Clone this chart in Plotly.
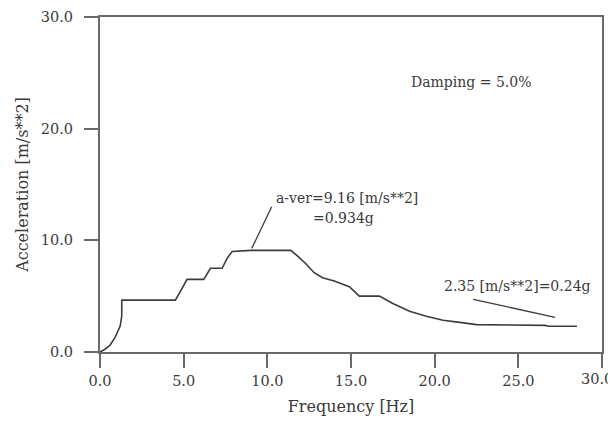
import plotly.graph_objects as go

# Response spectrum
freq = [0.0, 0.3, 0.6, 0.9, 1.2, 1.3, 1.3, 2.5, 3.5, 4.5, 4.8, 5.2, 6.2, 6.6, 7.3, 7.6, 7.9,
        9.0, 10.5, 11.4, 11.8, 12.3, 12.8, 13.3, 14.0, 14.9, 15.5, 16.7, 17.5, 18.5, 19.5,
        20.5, 21.5, 22.5, 24.5, 26.6, 26.8, 28.5]
accel = [0.0, 0.25, 0.6, 1.3, 2.3, 3.2, 4.65, 4.65, 4.65, 4.65, 5.4, 6.5, 6.5, 7.5, 7.5, 8.4, 9.0,
         9.1, 9.1, 9.1, 8.6, 7.9, 7.1, 6.65, 6.35, 5.85, 5.0, 5.0, 4.35, 3.65, 3.2,
         2.85, 2.65, 2.45, 2.42, 2.38, 2.3, 2.3]

x_ticks = [0, 5, 10, 15, 20, 25, 30]
x_ticktext = ["0.0", "5.0", "10.0", "15.0", "20.0", "25.0", "30.0"]
y_ticks = [0, 10, 20, 30]

# annotation texts and anchor points (data units)
ann_texts = ["a-ver=9.16 [m/s**2]", "=0.934g", "2.35 [m/s**2]=0.24g", "Damping = 5.0%"]
ann_x = [10.4, 12.6, 20.45, 18.45]
ann_y = [13.8, 12.0, 5.9, 24.2]
lead1_x = [9.07, 10.26]
lead1_y = [9.28, 13.0]
lead2_x = [22.3, 27.2]
lead2_y = [4.72, 3.1]

FONT = "DejaVu Serif"
TXT = "#3a3a3a"
AX = "#6a6a6a"
TICK_SIZE = 14.5

fig = go.Figure()
fig.add_trace(go.Scatter(x=freq, y=accel, mode="lines",
                         line=dict(color="#3c3c3c", width=1.6), showlegend=False,
                         hoverinfo="skip"))
fig.add_trace(go.Scatter(x=lead1_x, y=lead1_y, mode="lines",
                         line=dict(color="#3c3c3c", width=1.3), showlegend=False))
fig.add_trace(go.Scatter(x=lead2_x, y=lead2_y, mode="lines",
                         line=dict(color="#3c3c3c", width=1.3), showlegend=False))

for t, x, y in zip(ann_texts, ann_x, ann_y):
    fig.add_annotation(x=x, y=y, xref="x", yref="y", text=t, showarrow=False,
                       xanchor="left", yanchor="middle",
                       font=dict(family=FONT, size=14, color=TXT))

# last x tick label sits at the right edge: draw it right-aligned so it stays inside
fig.add_annotation(x=x_ticks[-1], y=0, xref="x", yref="paper", text=x_ticktext[-1],
                   showarrow=False, xanchor="right", yanchor="top",
                   xshift=13, yshift=-17,
                   font=dict(family=FONT, size=TICK_SIZE, color=TXT))

axis_common = dict(showline=True, linecolor=AX, linewidth=2, mirror=True,
                   ticks="outside", ticklen=14, tickwidth=2, tickcolor=AX,
                   showgrid=False, zeroline=False, automargin=False,
                   tickfont=dict(family=FONT, size=TICK_SIZE, color=TXT))

# page body has an 8px margin, so the figure is offset by 8px inside the window
fig.update_layout(
    width=608, height=408, autosize=False,
    margin=dict(l=92, r=14, t=9, b=64),
    paper_bgcolor="white", plot_bgcolor="white",
    xaxis=dict(range=[0, 30], tickvals=x_ticks,
               ticktext=x_ticktext[:-1] + [""], ticklabelstandoff=1,
               title=dict(text="Frequency [Hz]", standoff=18,
                          font=dict(family=FONT, size=16, color=TXT)),
               **axis_common),
    yaxis=dict(range=[0, 30], tickvals=y_ticks, tickformat=".1f", ticklabelstandoff=8,
               title=dict(text="Acceleration [m/s**2]", standoff=8,
                          font=dict(family=FONT, size=16, color=TXT)),
               **axis_common),
)

fig.write_html("out.html")
